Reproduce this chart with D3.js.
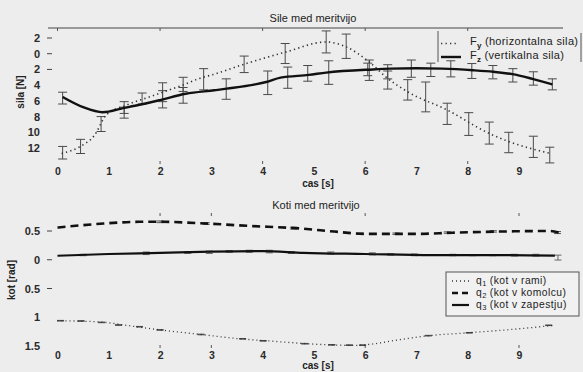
<!DOCTYPE html>
<html><head><meta charset="utf-8">
<script src="https://cdn.jsdelivr.net/npm/d3@7/dist/d3.min.js"></script>
<style>body{margin:0;background:#ececec}svg{display:block}</style>
</head><body>
<svg id="c" width="583" height="372"></svg>
<script>
// ---------- data ----------
const xTicks = [0,1,2,3,4,5,6,7,8,9];
const forceTickValues = [2,0,-2,-4,-6,-8,-10,-12];
const forceTickLabels = ["2","0","2","4","6","8","10","12"];
const forceTickMarks = [2,0,-2];
const angleTickValues = [0.5,0,-0.5,-1,-1.5];
const angleTickLabels = ["0.5","0","0.5","1","1.5"];
const angleTickMarks = [0.5,0,-0.5];
const topAxisTicks = [0,2,4,6,8];
const topBottomTicks = [2,4,6,8];
const angleExtraTicks = [2,3,6,9];

// Fy (horizontalna sila)
const fyT = [0.08,0.43,0.72,0.95,1.34,1.79,2.44,2.77,3.06,3.61,4.46,5.24,5.63,6.08,6.44,6.83,7.61,8.42,8.81,9.62];
const fyV = [-12.7,-11.85,-10.4,-7.8,-6.55,-5.5,-4.0,-3.15,-2.6,-1.4,0.23,1.5,0.87,-1.05,-3.15,-4.85,-7.2,-10.15,-11.2,-12.7];
const fyErrT  = [0.1,0.45,0.85,1.3,1.65,2.05,2.45,2.85,3.64,4.44,5.24,5.63,6.08,6.44,6.83,7.18,7.6,8.02,8.42,8.8,9.28,9.6];
const fyErrLo = [-13.4,-12.7,-9.9,-8.2,-6.4,-6.1,-4.8,-4.6,-2.4,-1.25,0.1,-0.6,-3.4,-4.5,-5.9,-7.4,-9.0,-10.4,-11.5,-12.6,-13.2,-13.9];
const fyErrHi = [-11.8,-10.9,-8.0,-6.8,-5.0,-3.7,-3.0,-1.9,-0.3,1.3,2.9,2.5,-0.8,-2.2,-3.3,-3.6,-6.3,-7.5,-8.7,-10.0,-10.5,-11.9];

// Fz (vertikalna sila)
const fzT = [0.1,0.5,0.88,1.3,1.6,2.0,2.5,3.06,3.3,4.07,4.35,4.9,5.24,6.15,6.5,7.0,7.5,8.1,8.5,8.87,9.26,9.65];
const fzV = [-5.5,-6.8,-7.45,-6.9,-6.5,-5.9,-5.1,-4.65,-4.45,-3.6,-3.05,-2.7,-2.4,-2.0,-1.9,-1.85,-1.9,-2.1,-2.3,-2.6,-3.2,-3.9];
const fzErrT  = [0.1,1.3,2.05,2.45,3.29,4.1,4.49,4.88,5.29,6.05,6.44,6.9,7.28,7.67,8.08,8.49,8.88,9.28,9.65];
const fzErrLo = [-6.4,-7.6,-6.9,-6.3,-5.8,-5.2,-4.4,-3.5,-3.9,-2.8,-3.2,-3.0,-2.9,-2.95,-3.15,-3.2,-3.6,-4.0,-4.6];
const fzErrHi = [-4.9,-6.1,-4.7,-4.3,-3.2,-2.2,-1.7,-1.5,-0.9,-1.2,-1.4,-0.8,-1.2,-0.9,-1.25,-1.5,-1.9,-2.3,-3.2];

// q1 (kot v rami)
const q1T = [0.0,0.8,1.5,2.0,2.8,3.5,4.1,4.7,5.3,5.8,6.1,6.6,7.25,8.0,8.75,9.7];
const q1V = [-1.06,-1.08,-1.16,-1.22,-1.30,-1.37,-1.41,-1.45,-1.48,-1.49,-1.47,-1.40,-1.32,-1.27,-1.22,-1.14];
const q1ErrT = [0.06,0.46,0.86,1.19,1.6,2.0,2.8,3.61,4.01,4.82,5.35,5.69,5.95,7.23,8.03,9.58];
const q1ErrLo = [-1.065,-1.07,-1.095,-1.14,-1.17,-1.225,-1.305,-1.38,-1.415,-1.465,-1.485,-1.49,-1.49,-1.325,-1.275,-1.145];
const q1ErrHi = [-1.055,-1.06,-1.085,-1.13,-1.16,-1.215,-1.295,-1.37,-1.405,-1.455,-1.475,-1.48,-1.48,-1.315,-1.265,-1.135];

// q2 (kot v komolcu)
const q2T = [0.0,0.9,1.6,2.0,2.9,3.7,4.8,5.4,6.0,7.0,7.7,8.6,9.6,9.8];
const q2V = [0.56,0.63,0.66,0.66,0.63,0.59,0.54,0.49,0.45,0.45,0.47,0.49,0.50,0.47];
const q2ErrT = [2.0,2.9,4.6,5.9,6.6,7.6,8.5,9.75];
const q2ErrLo = [0.645,0.615,0.535,0.44,0.44,0.46,0.48,0.455];
const q2ErrHi = [0.675,0.645,0.565,0.465,0.465,0.485,0.505,0.49];

// q3 (kot v zapestju)
const q3T = [0.0,1.0,2.0,3.0,4.0,4.8,6.0,7.3,8.6,9.7];
const q3V = [0.07,0.10,0.12,0.14,0.15,0.12,0.10,0.08,0.08,0.07];
const q3ErrT = [0.5,1.73,2.54,2.96,3.35,3.74,4.13,4.56,5.33,6.14,6.5,6.96,7.71,8.1,8.49,8.91,9.33,9.76];
const q3ErrLo = [0.07,0.09,0.11,0.11,0.13,0.13,0.12,0.11,0.1,0.085,0.08,0.07,0.07,0.07,0.07,0.065,0.065,-0.005];
const q3ErrHi = [0.095,0.135,0.14,0.15,0.16,0.165,0.165,0.14,0.135,0.12,0.105,0.1,0.095,0.09,0.09,0.095,0.095,0.08];

// ---------- drawing ----------
const svg = d3.select("#c");
const FONT = "'Liberation Sans', Arial, Helvetica, sans-serif";
svg.append("rect").attr("width",583).attr("height",372).attr("fill","#ededed");

const x = d3.scaleLinear().domain([0,9]).range([57.5,519]);
const yF = d3.scaleLinear().domain([2,-12]).range([38,148]);
const yA = d3.scaleLinear().domain([0.5,-1.5]).range([231,346]);

function zip(t,v){return t.map((d,i)=>[d,v[i]]);}
function errs(t,lo,hi){return t.map((d,i)=>({t:d,lo:lo[i],hi:hi[i]}));}

function drawErr(g, data, y, cap, color){
  const e = g.append("g").attr("stroke",color).attr("stroke-width",1).attr("fill","none");
  data.forEach(d=>{
    const xx = x(d.t);
    e.append("line").attr("x1",xx).attr("x2",xx).attr("y1",y(d.lo)).attr("y2",y(d.hi));
    e.append("line").attr("x1",xx-cap).attr("x2",xx+cap).attr("y1",y(d.lo)).attr("y2",y(d.lo));
    e.append("line").attr("x1",xx-cap).attr("x2",xx+cap).attr("y1",y(d.hi)).attr("y2",y(d.hi));
  });
}
function drawLine(g, pts, y, width, dash, color){
  const line = d3.line().x(d=>x(d[0])).y(d=>y(d[1])).curve(d3.curveMonotoneX);
  const p = g.append("path").datum(pts).attr("d",line).attr("fill","none")
    .attr("stroke",color).attr("stroke-width",width);
  if(dash) p.attr("stroke-dasharray",dash);
  return p;
}
function yAxis(y, values, labels, marks){
  const g = svg.append("g").attr("transform","translate(40,0)")
    .call(d3.axisLeft(y).tickValues(values).tickFormat((d,i)=>labels[i]).tickSize(0).tickPadding(0));
  g.select(".domain").remove();
  g.selectAll("text").attr("font-family",FONT).attr("font-size",11).attr("font-weight","bold").attr("fill","#2a2a2a");
  marks.forEach(v=>{
    svg.append("line").attr("x1",47).attr("x2",52).attr("y1",y(v)).attr("y2",y(v))
      .attr("stroke","#444").attr("stroke-width",1);
  });
}
function xAxis(yPos){
  const g = svg.append("g").attr("transform",`translate(0,${yPos})`)
    .call(d3.axisBottom(x).tickValues(xTicks).tickFormat(d3.format("d")).tickSize(0).tickPadding(0));
  g.select(".domain").remove();
  g.selectAll("text").attr("font-family",FONT).attr("font-size",10.5).attr("font-weight","bold").attr("fill","#2a2a2a");
}
function smallTicks(vals, y0, len){
  vals.forEach(v=>svg.append("line").attr("x1",x(v)).attr("x2",x(v)).attr("y1",y0).attr("y2",y0+len)
    .attr("stroke","#555").attr("stroke-width",1));
}
function text(t, xx, yy, opts){
  const el = svg.append("text").attr("x",xx).attr("y",yy).attr("font-family",FONT)
    .attr("font-size",opts.size||11).attr("fill","#222").attr("text-anchor",opts.anchor||"middle");
  if(opts.bold) el.attr("font-weight","bold");
  if(opts.spacing) el.attr("letter-spacing",opts.spacing);
  if(opts.rotate) el.attr("transform",`rotate(-90,${xx},${yy})`);
  el.text(t);
  return el;
}

// ===== top chart =====
text("Sile med meritvijo", 313, 22, {size:11});
svg.append("line").attr("x1",48).attr("x2",563).attr("y1",28).attr("y2",28).attr("stroke","#444").attr("stroke-width",1);
smallTicks(topAxisTicks, 28, 3);
smallTicks(topBottomTicks, 161, 3);
yAxis(yF, forceTickValues, forceTickLabels, forceTickMarks);
xAxis(168);
text("cas [s]", 318, 187, {size:10, bold:true});
text("sila [N]", 24, 92, {size:10, bold:true, rotate:true});

const gTop = svg.append("g");
drawErr(gTop, errs(fyErrT,fyErrLo,fyErrHi), yF, 4.5, "#4a4a4a");
drawErr(gTop, errs(fzErrT,fzErrLo,fzErrHi), yF, 4.5, "#4a4a4a");
drawLine(gTop, zip(fyT,fyV), yF, 1.6, "1.3,3.2", "#333");
drawLine(gTop, zip(fzT,fzV), yF, 2.4, null, "#111");

// top legend
svg.append("line").attr("x1",438).attr("x2",438).attr("y1",31).attr("y2",62).attr("stroke","#555");
svg.append("line").attr("x1",581).attr("x2",581).attr("y1",33).attr("y2",62).attr("stroke","#555");
svg.append("line").attr("x1",441).attr("x2",459).attr("y1",43.5).attr("y2",43.5).attr("stroke","#333").attr("stroke-width",1.6).attr("stroke-dasharray","1.3,3.2");
svg.append("line").attr("x1",441).attr("x2",461).attr("y1",57).attr("y2",57).attr("stroke","#111").attr("stroke-width",2.4);
const l1 = text("F", 470, 45, {size:11, anchor:"start", spacing:0.35});
l1.append("tspan").attr("dy",3).attr("font-size",8).attr("font-weight","bold").text("y");
l1.append("tspan").attr("dy",-3).attr("dx",3).text("(horizontalna sila)");
const l2 = text("F", 470, 59, {size:11, anchor:"start", spacing:0.35});
l2.append("tspan").attr("dy",3).attr("font-size",8).attr("font-weight","bold").text("z");
l2.append("tspan").attr("dy",-3).attr("dx",3).text("(vertikalna sila)");

// ===== bottom chart =====
text("Koti med meritvijo", 316, 209, {size:11});
smallTicks(angleExtraTicks, 213, 3);
smallTicks(angleExtraTicks, 345, 3);
yAxis(yA, angleTickValues, angleTickLabels, angleTickMarks);
xAxis(352);
text("cas [s]", 318, 369, {size:10, bold:true});
text("kot [rad]", 15, 280, {size:10, bold:true, rotate:true});

const gBot = svg.append("g");
drawErr(gBot, errs(q1ErrT,q1ErrLo,q1ErrHi), yA, 3.5, "#444");
drawErr(gBot, errs(q2ErrT,q2ErrLo,q2ErrHi), yA, 3.5, "#555");
drawErr(gBot, errs(q3ErrT,q3ErrLo,q3ErrHi), yA, 3.5, "#666");
drawLine(gBot, zip(q1T,q1V), yA, 1.3, "1,3", "#333");
drawLine(gBot, zip(q2T,q2V), yA, 2.6, "8,5", "#111");
drawLine(gBot, zip(q3T,q3V), yA, 2.2, null, "#111");

// bottom legend
svg.append("rect").attr("x",446).attr("y",272).attr("width",133).attr("height",44)
  .attr("fill","#f1f1f1").attr("stroke","#555").attr("stroke-width",1);
svg.append("line").attr("x1",452).attr("x2",469).attr("y1",281).attr("y2",281).attr("stroke","#333").attr("stroke-width",1.3).attr("stroke-dasharray","1,3");
svg.append("line").attr("x1",452).attr("x2",469).attr("y1",293).attr("y2",293).attr("stroke","#111").attr("stroke-width",2.6).attr("stroke-dasharray","6,4");
svg.append("line").attr("x1",452).attr("x2",469).attr("y1",305).attr("y2",305).attr("stroke","#111").attr("stroke-width",2.2);
[["1","(kot v rami)",283.5],["2","(kot v komolcu)",295.5],["3","(kot v zapestju)",307.5]].forEach(r=>{
  const t = text("q", 476, r[2], {size:10.3, anchor:"start", spacing:0.45});
  t.append("tspan").attr("dy",2.5).attr("font-size",7.5).text(r[0]);
  t.append("tspan").attr("dy",-2.5).attr("dx",3).text(r[1]);
});
</script>
</body></html>
